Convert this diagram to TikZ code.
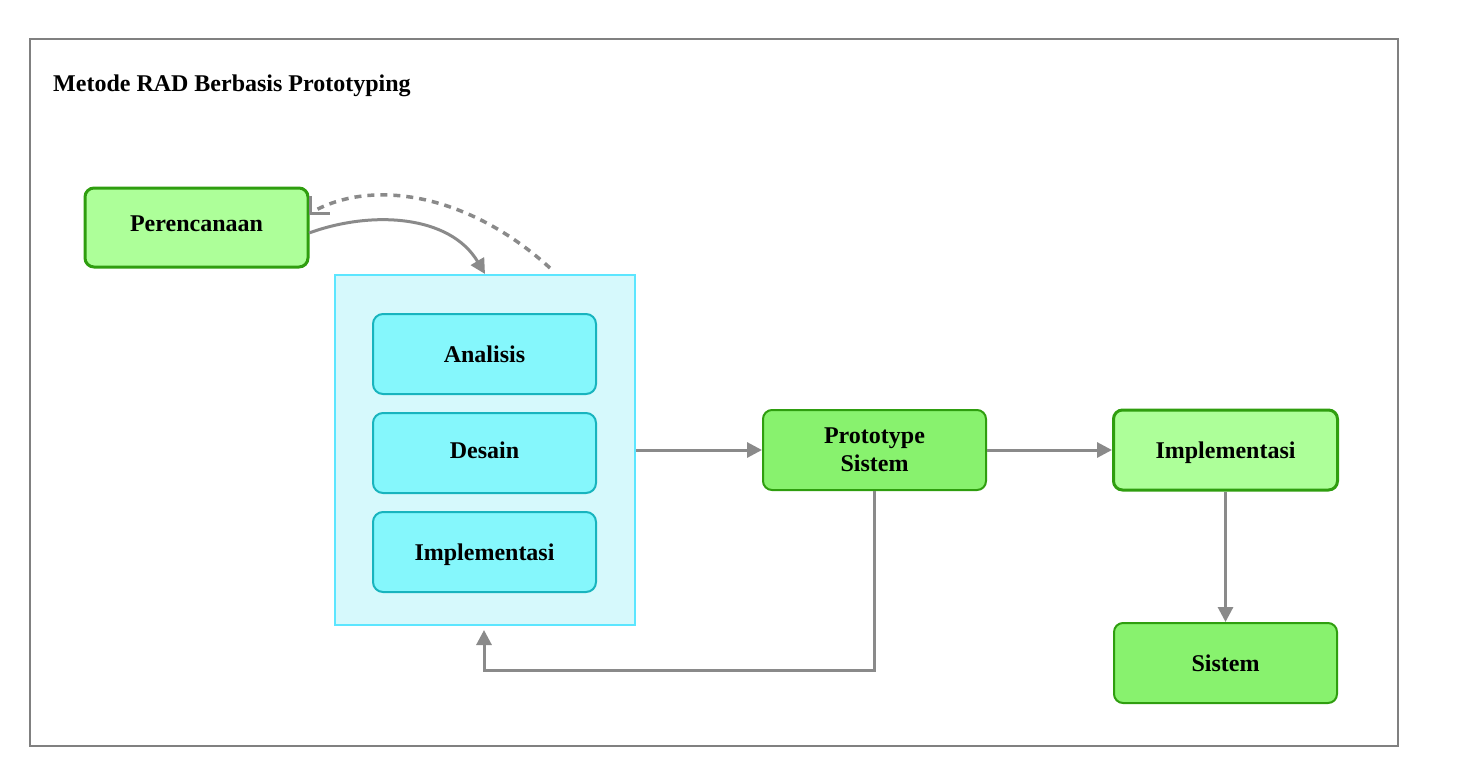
\documentclass[tikz,border=0pt]{standalone}
\usepackage{fontspec}
\setmainfont{Liberation Serif}
\usetikzlibrary{arrows.meta,calc}
\definecolor{lgfill}{HTML}{ADFF99}
\definecolor{gfill}{HTML}{88F26E}
\definecolor{gdraw}{HTML}{2F9E0F}
\definecolor{cfill}{HTML}{D6F9FC}
\definecolor{cdraw}{HTML}{5CE6FF}
\definecolor{bfill}{HTML}{85F7FC}
\definecolor{bdraw}{HTML}{18B4BE}
\definecolor{arrgray}{HTML}{8A8A8A}
\definecolor{framegray}{HTML}{808080}
\begin{document}
\begin{tikzpicture}[x=1pt,y=-1pt,
  every node/.style={font=\fontsize{24}{28}\selectfont\bfseries},
  stage/.style={rectangle,rounded corners=9pt,draw=gdraw,line width=3pt,fill=lgfill,minimum width=223pt,minimum height=79pt,align=center,inner sep=0pt},
  stagetwo/.style={rectangle,rounded corners=9pt,draw=gdraw,line width=2pt,fill=gfill,minimum width=223pt,minimum height=80pt,align=center,inner sep=0pt},
  inner/.style={rectangle,rounded corners=10pt,draw=bdraw,line width=2pt,fill=bfill,minimum width=223pt,minimum height=80pt,inner sep=0pt},
  container/.style={rectangle,draw=cdraw,line width=2pt,fill=cfill,minimum width=300pt,minimum height=350pt,inner sep=0pt},
  arr/.style={draw=arrgray,line width=3pt,-{Triangle[length=15pt,width=15pt]}},
]
\useasboundingbox (0,0) rectangle (1466,782);
\draw[framegray,line width=2pt] (30,39) rectangle (1398,746);
\node[anchor=base west,inner sep=0pt] (title) at (53,91) {Metode RAD Berbasis Prototyping};

\node[stage,text height=16pt,text depth=8pt] (per) at (196.5,227.5) {Perencanaan};
\node[container] (box) at (485,450) {};
\node[inner] (ana) at (484.5,354) {Analisis};
\node[inner,text height=16pt,text depth=6pt] (des) at (484.5,453) {Desain};
\node[inner,text height=22pt,text depth=5pt] (imp1) at (484.5,552) {Implementasi};
\node[stagetwo] (proto) at (874.5,450) {Prototype\\Sistem};
\node[stage,minimum width=224pt,minimum height=80pt,text height=22pt,text depth=5pt] (imp2) at (1225.5,450) {Implementasi};
\node[stagetwo] (sis) at (1225.5,663) {Sistem};

% curved arrow from Perencanaan to the container
\coordinate (cs) at (309,233);
\draw[arr] (cs) .. controls (372,210) and (450,215) .. (box.north);

% dashed feedback curve
\coordinate (ds) at (550,268);
\coordinate (de) at (314,211);
\draw[arrgray,line width=3.5pt,dash pattern=on 7pt off 6pt] (ds) .. controls (470,195) and (375,178) .. (de);
\coordinate (tA) at (310,196);
\coordinate (tB) at (310,213);
\coordinate (tC) at (330,213);
\draw[arrgray,line width=3pt] (tA) -- (tB) -- (tC);

% straight arrows
\draw[arr] (box.east) -- (proto.west);
\draw[arr] (proto.east) -- (imp2.west);
\draw[arr] (imp2.south) -- (sis.north);

% loop back from prototype to container
\coordinate (fb) at (484,670);
\coordinate (fbe) at (484,630);
\draw[arr] (proto.south) |- (fb) -- (fbe);
\end{tikzpicture}
\end{document}
